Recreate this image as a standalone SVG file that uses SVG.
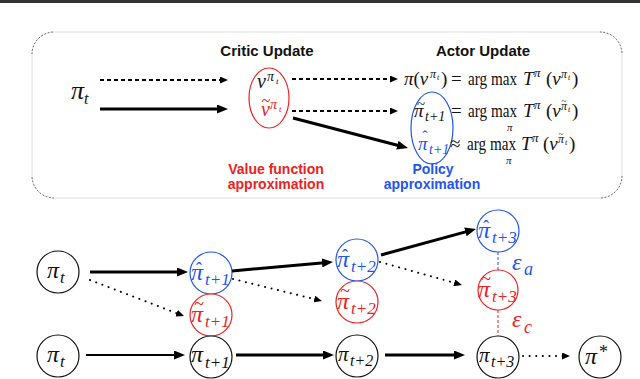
<svg xmlns="http://www.w3.org/2000/svg" width="640" height="379" viewBox="0 0 640 379">
<defs>
<style>
.s{font-family:"Liberation Serif","Times New Roman",serif;}
.i{font-style:italic;}
.n{font-style:normal;}
.lab{font-family:"Liberation Sans",Arial,sans-serif;font-weight:bold;text-anchor:middle;}
.nd{fill:#fff;stroke-width:1.2;}
.tk{fill:#111;}
.tr{fill:#ee2222;}
.tb{fill:#2255ee;}
.dc{text-anchor:middle;font-style:normal;}
.thick{stroke:#000;stroke-width:3;fill:none;}
.med{stroke:#000;stroke-width:2;fill:none;}
.dash{stroke:#000;stroke-width:1.8;stroke-dasharray:4 3;fill:none;}
.dot{stroke:#000;stroke-width:2;stroke-dasharray:0.1 6.5;stroke-linecap:round;fill:none;}
</style>
<marker id="ah" markerUnits="userSpaceOnUse" viewBox="0 0 11 9" markerWidth="11" markerHeight="9" refX="5" refY="4.5" orient="auto"><path d="M0,0 L11,4.5 L0,9 z" fill="#000"/></marker>
<marker id="as" markerUnits="userSpaceOnUse" viewBox="0 0 8 7" markerWidth="8" markerHeight="7" refX="4" refY="3.5" orient="auto"><path d="M0,0 L8,3.5 L0,7 z" fill="#000"/></marker>
</defs>
<rect x="0" y="0" width="640" height="3" fill="#333"/>
<g id="frame">
<rect x="32" y="32" width="590" height="166" rx="22" fill="none" stroke="#d8d8d8" stroke-width="0.8"/>
<path d="M32,54 A22,22 0 0 1 54,32 M600,32 A22,22 0 0 1 622,54 M622,176 A22,22 0 0 1 600,198 M54,198 A22,22 0 0 1 32,176" fill="none" stroke="#555" stroke-width="1" stroke-dasharray="1.5 2"/>
</g>
<g id="labels">
<text class="lab" x="267" y="56" font-size="15" fill="#111">Critic Update</text>
<text class="lab" x="483" y="56" font-size="15" fill="#111">Actor Update</text>
<text class="lab" x="276" y="174" font-size="14" fill="#ee2222">Value function</text>
<text class="lab" x="276" y="189" font-size="14" fill="#ee2222">approximation</text>
<text class="lab" x="433" y="174" font-size="14" fill="#2255ee">Policy</text>
<text class="lab" x="432" y="189" font-size="14" fill="#2255ee">approximation</text>
</g>
<g id="pi-t-top">
<text class="s i tk" x="71" y="99" font-size="26">π<tspan x="84" y="104" font-size="16">t</tspan></text>
</g>
<g id="critic-ellipse">
<ellipse cx="269" cy="98" rx="20" ry="30" fill="none" stroke="#ee2222" stroke-width="1.2"/>
<text class="s i tk" x="257" y="88" font-size="20">v<tspan x="267" y="81" font-size="14">π</tspan><tspan x="276" y="84" font-size="9">t</tspan></text>
<text class="s i tr" x="261" y="116" font-size="20">v<tspan class="dc" x="266" y="106" font-size="16">~</tspan><tspan x="270" y="109" font-size="14">π</tspan><tspan x="279" y="112" font-size="9">t</tspan></text>
</g>
<g id="actor-ellipse">
<ellipse cx="432" cy="128" rx="21" ry="36" fill="none" stroke="#2255ee" stroke-width="1.2"/>
</g>
<g id="eq1" class="s tk" font-size="19">
<text x="404" y="85"><tspan class="i">π</tspan>(<tspan class="i">v</tspan><tspan class="i" x="430" y="78" font-size="12">π</tspan><tspan class="i" x="437" y="80" font-size="8">t</tspan><tspan x="441" y="85">)</tspan><tspan x="451" y="85">=</tspan></text>
<text x="468" y="85" font-size="18" textLength="49" lengthAdjust="spacingAndGlyphs">arg max</text>
<text x="523" y="85"><tspan class="i">T</tspan><tspan class="i" x="534" y="77" font-size="13">π</tspan><tspan x="546" y="85">(</tspan><tspan class="i">v</tspan><tspan class="i" x="561" y="78" font-size="12">π</tspan><tspan class="i" x="568" y="80" font-size="8">t</tspan><tspan x="572" y="85">)</tspan></text>
</g>
<g id="eq2" class="s tk" font-size="19">
<text class="i" x="414" y="117">π<tspan class="dc" x="421" y="109" font-size="15">~</tspan><tspan x="425" y="121" font-size="14">t+1</tspan><tspan class="n" x="451" y="117">=</tspan></text>
<text x="468" y="117" font-size="18" textLength="49" lengthAdjust="spacingAndGlyphs">arg max</text>
<text class="i" x="507" y="131" font-size="11">π</text>
<text x="523" y="117"><tspan class="i">T</tspan><tspan class="i" x="534" y="109" font-size="13">π</tspan><tspan x="546" y="117">(</tspan><tspan class="i">v</tspan><tspan class="dc" x="564" y="104" font-size="9">~</tspan><tspan class="i" x="561" y="110" font-size="12">π</tspan><tspan class="i" x="568" y="112" font-size="8">t</tspan><tspan x="572" y="117">)</tspan></text>
</g>
<g id="eq3" class="s tk" font-size="19">
<text class="i tb" x="418" y="150">π<tspan class="dc" x="425" y="142" font-size="16">ˆ</tspan><tspan x="429" y="154" font-size="14">t+1</tspan></text>
<text x="450" y="150">≈</text>
<text x="467" y="150" font-size="18" textLength="49" lengthAdjust="spacingAndGlyphs">arg max</text>
<text class="i" x="506" y="164" font-size="11">π</text>
<text x="521" y="150"><tspan class="i">T</tspan><tspan class="i" x="532" y="142" font-size="13">π</tspan><tspan x="543" y="150">(</tspan><tspan class="i">v</tspan><tspan class="dc" x="561" y="137" font-size="9">~</tspan><tspan class="i" x="558" y="143" font-size="12">π</tspan><tspan class="i" x="565" y="145" font-size="8">t</tspan><tspan x="569" y="150">)</tspan></text>
</g>
<g id="n-pt-1">
<circle class="nd" cx="58" cy="272" r="21" stroke="#111"/>
<text class="s i tk" x="47" y="278" font-size="24">π<tspan x="60" y="283" font-size="17">t</tspan></text>
</g>
<g id="n-hat1">
<circle class="nd" cx="211" cy="273" r="21" stroke="#2255ee"/>
<text class="s i tb" x="191" y="280" font-size="24">π<tspan class="dc" x="199" y="275" font-size="18">ˆ</tspan><tspan x="205" y="285" font-size="17">t+1</tspan></text>
</g>
<g id="n-til1">
<circle class="nd" cx="211" cy="315" r="21" stroke="#ee2222"/>
<text class="s i tr" x="191" y="322" font-size="24">π<tspan class="dc" x="199" y="310" font-size="18">~</tspan><tspan x="205" y="327" font-size="17">t+1</tspan></text>
</g>
<g id="n-pt-2">
<circle class="nd" cx="58" cy="356" r="21" stroke="#111"/>
<text class="s i tk" x="47" y="362" font-size="24">π<tspan x="60" y="367" font-size="17">t</tspan></text>
</g>
<g id="n-p1">
<circle class="nd" cx="211" cy="357" r="21" stroke="#111"/>
<text class="s i tk" x="191" y="362" font-size="24">π<tspan x="205" y="368" font-size="17">t+1</tspan></text>
</g>
<g id="n-hat2">
<circle class="nd" cx="357" cy="260" r="21" stroke="#2255ee"/>
<text class="s i tb" x="337" y="267" font-size="24">π<tspan class="dc" x="345" y="262" font-size="18">ˆ</tspan><tspan x="351" y="272" font-size="17">t+2</tspan></text>
</g>
<g id="n-til2">
<circle class="nd" cx="357" cy="302" r="21" stroke="#ee2222"/>
<text class="s i tr" x="337" y="309" font-size="24">π<tspan class="dc" x="345" y="297" font-size="18">~</tspan><tspan x="351" y="314" font-size="17">t+2</tspan></text>
</g>
<g id="n-p2">
<circle class="nd" cx="357" cy="356" r="21" stroke="#111"/>
<text class="s i tk" x="338" y="361" font-size="21">π<tspan x="350" y="366" font-size="16">t+2</tspan></text>
</g>
<g id="n-hat3">
<circle class="nd" cx="498" cy="231" r="21" stroke="#2255ee"/>
<text class="s i tb" x="478" y="238" font-size="24">π<tspan class="dc" x="486" y="233" font-size="18">ˆ</tspan><tspan x="492" y="243" font-size="17">t+3</tspan></text>
</g>
<g id="n-til3">
<circle class="nd" cx="498" cy="290" r="20" stroke="#ee2222"/>
<text class="s i tr" x="478" y="297" font-size="24">π<tspan class="dc" x="486" y="285" font-size="18">~</tspan><tspan x="492" y="302" font-size="17">t+3</tspan></text>
</g>
<g id="n-p3">
<circle class="nd" cx="498" cy="357" r="21" stroke="#111"/>
<text class="s i tk" x="479" y="362" font-size="21">π<tspan x="491" y="367" font-size="16">t+3</tspan></text>
</g>
<g id="n-star">
<circle class="nd" cx="600" cy="357" r="21" stroke="#111"/>
<text class="s i tk" x="585" y="364" font-size="24">π<tspan class="n" x="599" y="358" font-size="18">*</tspan></text>
</g>
<g id="errors">
<text class="s i tb" x="512" y="270" font-size="24">ε<tspan x="524" y="275" font-size="18">a</tspan></text>
<text class="s i tr" x="512" y="327" font-size="24">ε<tspan x="524" y="333" font-size="18">c</tspan></text>
</g>
<g id="connectors">
<line class="dash" x1="100" y1="80" x2="224" y2="80" marker-end="url(#as)"/>
<line class="thick" x1="100" y1="109" x2="222" y2="109" marker-end="url(#ah)"/>
<line class="dash" x1="292" y1="79" x2="394" y2="79" marker-end="url(#as)"/>
<line class="dash" x1="292" y1="111" x2="394" y2="111" marker-end="url(#as)"/>
<line class="thick" x1="293" y1="118" x2="402.2" y2="146.5" marker-end="url(#ah)"/>
<line class="thick" x1="90" y1="272" x2="182" y2="272" marker-end="url(#ah)"/>
<line class="dot" x1="90" y1="280" x2="180.3" y2="314.6" marker-end="url(#as)"/>
<line class="thick" x1="232" y1="271" x2="327" y2="262.5" marker-end="url(#ah)"/>
<line class="dot" x1="233" y1="279" x2="318.1" y2="300" marker-end="url(#as)"/>
<line class="med" x1="86" y1="355" x2="179" y2="355" marker-end="url(#ah)"/>
<line class="thick" x1="236" y1="355" x2="328" y2="355" marker-end="url(#ah)"/>
<line class="thick" x1="381" y1="255" x2="470.2" y2="230.6" marker-end="url(#ah)"/>
<line class="dot" x1="380" y1="262" x2="458.1" y2="283.9" marker-end="url(#as)"/>
<line class="thick" x1="385" y1="355" x2="459" y2="355" marker-end="url(#ah)"/>
<line class="dot" x1="523" y1="356" x2="566" y2="356" marker-end="url(#as)"/>
<line x1="498" y1="252" x2="498" y2="270" stroke="#2255ee" stroke-width="1" stroke-dasharray="3 2"/>
<line x1="498" y1="310" x2="498" y2="336" stroke="#ee2222" stroke-width="1" stroke-dasharray="3 2"/>
</g>
</svg>
